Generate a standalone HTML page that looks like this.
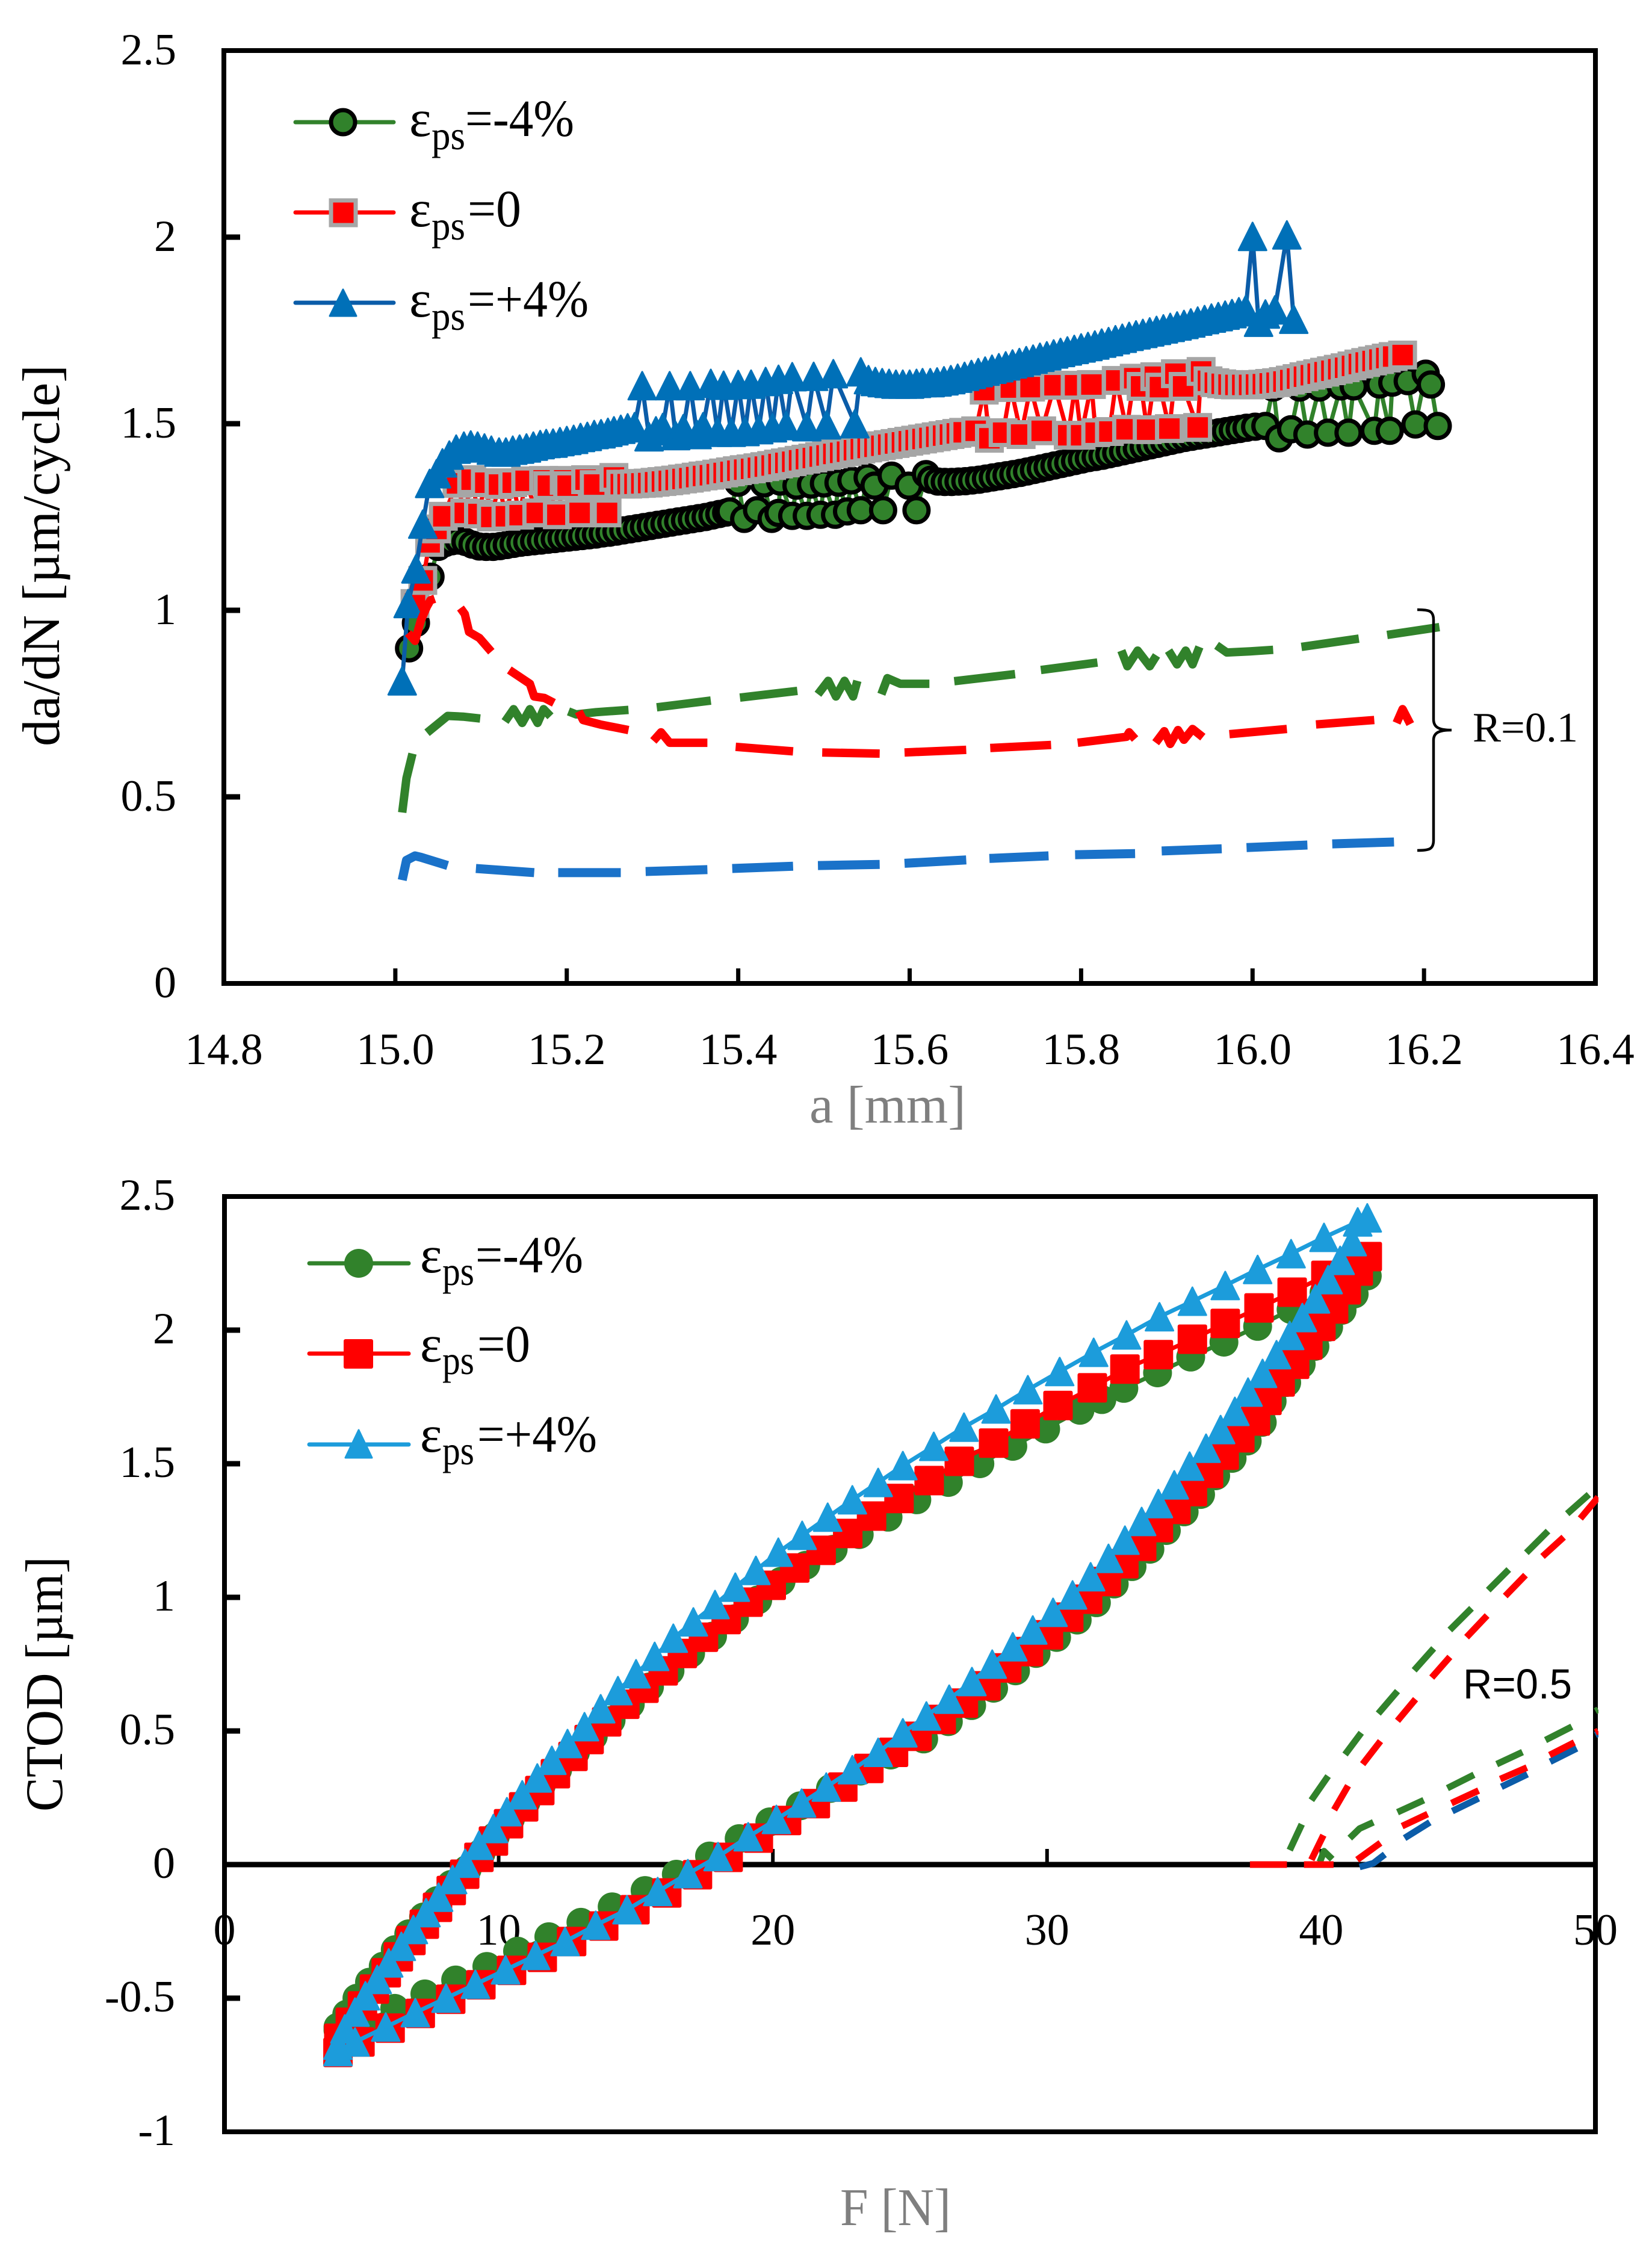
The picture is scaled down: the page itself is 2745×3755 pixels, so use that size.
<!DOCTYPE html>
<html lang="en">
<head>
<meta charset="utf-8">
<title>da/dN and CTOD charts</title>
<style>
html,body{margin:0;padding:0;background:#fff;}
svg{display:block;}
text{font-family:"Liberation Serif",serif;fill:#000;}
</style>
</head>
<body>
<svg id="fig" xmlns="http://www.w3.org/2000/svg" width="2745" height="3755" viewBox="0 0 2745 3755">
<rect x="0" y="0" width="2745" height="3755" fill="#fff"/>
<defs><clipPath id="clipBottom"><rect x="373" y="1988" width="2283" height="1554"/></clipPath></defs>

<g id="topAxes"></g>
<g id="topPlot"></g>
<rect x="372" y="84" width="2279" height="1550" fill="none" stroke="#000" stroke-width="8"/>

<text x="1345" y="1865" font-size="88" textLength="260" lengthAdjust="spacingAndGlyphs" style="fill:#7f7f7f">a [mm]</text>
<text transform="translate(98,1240) rotate(-90)" x="0" y="0" font-size="88" textLength="634" lengthAdjust="spacingAndGlyphs">da/dN [µm/cycle]</text>

<g>
  <g>
    <line x1="491" x2="654" y1="203" y2="203" stroke="#31822B" stroke-width="7" stroke-linecap="round"/>
    <circle cx="570" cy="203" r="20" fill="#31822B" stroke="#000" stroke-width="7"/>
    <text x="680" y="226" font-size="87">ε</text>
    <text x="717" y="248" font-size="68" textLength="56" lengthAdjust="spacingAndGlyphs">ps</text>
    <text x="773" y="226" font-size="87" textLength="181" lengthAdjust="spacingAndGlyphs">=-4%</text>
  </g>
  <g>
    <line x1="491" x2="654" y1="353" y2="353" stroke="#f00" stroke-width="7" stroke-linecap="round"/>
    <rect x="550" y="333" width="41" height="41" fill="#f00" stroke="#a6a6a6" stroke-width="7"/>
    <text x="680" y="376" font-size="87">ε</text>
    <text x="717" y="398" font-size="68" textLength="56" lengthAdjust="spacingAndGlyphs">ps</text>
    <text x="777" y="376" font-size="87" textLength="89" lengthAdjust="spacingAndGlyphs">=0</text>
  </g>
  <g>
    <line x1="491" x2="654" y1="503" y2="503" stroke="#0B5CA8" stroke-width="7" stroke-linecap="round"/>
    <polygon points="570,481 548,525 592,525" fill="#0070B8" stroke="#0070B8" stroke-width="3" stroke-linejoin="round"/>
    <text x="680" y="526" font-size="87">ε</text>
    <text x="717" y="548" font-size="68" textLength="56" lengthAdjust="spacingAndGlyphs">ps</text>
    <text x="777" y="526" font-size="87" textLength="201" lengthAdjust="spacingAndGlyphs">=+4%</text>
  </g>
</g>
<path d="M2355,1013 C2375,1013 2382,1015 2382,1030 L2382,1195 C2382,1208 2390,1213 2412,1213 C2390,1213 2382,1218 2382,1230 L2382,1396 C2382,1411 2375,1413 2355,1413" fill="none" stroke="#000" stroke-width="4.5"/>
<text x="2447" y="1232" font-size="70" textLength="175" lengthAdjust="spacingAndGlyphs">R=0.1</text>

<g id="botAxes"></g>
<rect x="373" y="1988" width="2278" height="1554" fill="none" stroke="#000" stroke-width="8"/>
<g id="botPlot"></g>

<text x="1396" y="3697" font-size="88" textLength="184" lengthAdjust="spacingAndGlyphs" style="fill:#7f7f7f">F [N]</text>
<text transform="translate(103,3010) rotate(-90)" x="0" y="0" font-size="88" textLength="424" lengthAdjust="spacingAndGlyphs">CTOD [µm]</text>

<g>
  <g>
    <line x1="514" x2="679" y1="2099" y2="2099" stroke="#31822B" stroke-width="7" stroke-linecap="round"/>
    <circle cx="596" cy="2099" r="24" fill="#31822B"/>
    <text x="698" y="2114" font-size="87">ε</text>
    <text x="735" y="2135" font-size="68" textLength="53" lengthAdjust="spacingAndGlyphs">ps</text>
    <text x="790" y="2114" font-size="87" textLength="179" lengthAdjust="spacingAndGlyphs">=-4%</text>
  </g>
  <g>
    <line x1="514" x2="679" y1="2249" y2="2249" stroke="#f00" stroke-width="7" stroke-linecap="round"/>
    <rect x="571" y="2225" width="49" height="49" rx="3" fill="#f00"/>
    <text x="698" y="2262" font-size="87">ε</text>
    <text x="735" y="2283" font-size="68" textLength="53" lengthAdjust="spacingAndGlyphs">ps</text>
    <text x="793" y="2262" font-size="87" textLength="88" lengthAdjust="spacingAndGlyphs">=0</text>
  </g>
  <g>
    <line x1="514" x2="679" y1="2400" y2="2400" stroke="#1C9CDB" stroke-width="7" stroke-linecap="round"/>
    <polygon points="596,2376 574,2422 618,2422" fill="#1C9CDB" stroke="#1C9CDB" stroke-width="3" stroke-linejoin="round"/>
    <text x="698" y="2412" font-size="87">ε</text>
    <text x="735" y="2433" font-size="68" textLength="53" lengthAdjust="spacingAndGlyphs">ps</text>
    <text x="793" y="2412" font-size="87" textLength="199" lengthAdjust="spacingAndGlyphs">=+4%</text>
  </g>
</g>
<text x="2431" y="2822" font-size="70" textLength="181" lengthAdjust="spacingAndGlyphs" style="font-family:'Liberation Sans',sans-serif">R=0.5</text>
</svg>

<script>
/* ---------- axis labels ---------- */
const topXTicks=[14.8,15.0,15.2,15.4,15.6,15.8,16.0,16.2,16.4];
const topXLabels=["14.8","15.0","15.2","15.4","15.6","15.8","16.0","16.2","16.4"];
const topYTicks=[0,0.5,1,1.5,2,2.5];
const topYLabels=["0","0.5","1","1.5","2","2.5"];
const botXTicks=[0,10,20,30,40,50];
const botXLabels=["0","10","20","30","40","50"];
const botYTicks=[-1,-0.5,0,0.5,1,1.5,2,2.5];
const botYLabels=["-1","-0.5","0","0.5","1","1.5","2","2.5"];

/* ---------- top chart: R=0.5 marker series ---------- */
const topGreenA=[15.016,15.024,15.041,15.05,
15.058,15.066,15.074,15.082,15.09,15.098,15.106,15.114,15.122,15.13,
15.138,15.146,15.154,15.162,15.17,15.178,15.186,15.194,15.202,15.21,
15.218,15.226,15.234,15.242,15.25,15.258,15.266,15.274,15.282,15.29,
15.298,15.306,15.314,15.322,15.33,15.338,15.346,15.354,15.362,15.37,
15.378,15.386,
15.39,15.4,15.407,15.422,15.43,15.439,15.447,15.449,15.463,15.468,
15.48,15.485,15.496,15.5,15.513,15.517,15.527,15.532,15.543,15.551,
15.559,15.569,15.579,15.599,15.608,15.619,15.625,
15.633,15.641,15.649,15.657,15.665,15.673,15.681,15.689,15.697,15.705,
15.713,15.721,15.729,15.737,15.745,15.753,15.761,15.769,15.777,15.785,
15.793,15.801,15.809,15.817,15.825,15.833,15.841,15.849,15.857,15.865,
15.873,15.881,15.889,15.897,15.905,15.913,15.921,15.929,15.937,15.945,
15.953,15.961,15.969,15.977,15.985,15.993,16.003,
16.015,16.024,16.031,16.045,16.055,16.064,16.078,16.088,16.103,16.112,
16.118,16.142,16.148,16.16,16.163,16.181,16.19,16.202,16.208,16.216];
const topGreenRate=[0.898,0.966,1.09,1.17,
1.18,1.185,1.187,1.183,1.176,1.171,1.17,1.17,1.172,1.175,
1.178,1.181,1.183,1.185,1.187,1.189,1.191,1.193,1.195,1.197,
1.199,1.201,1.203,1.206,1.208,1.211,1.214,1.217,1.22,1.223,
1.226,1.229,1.232,1.235,1.238,1.241,1.244,1.247,1.25,1.254,
1.258,1.262,
1.265,1.342,1.245,1.268,1.34,1.245,1.261,1.345,1.253,1.334,
1.253,1.337,1.256,1.34,1.256,1.342,1.265,1.348,1.268,1.356,
1.334,1.268,1.361,1.334,1.268,1.365,1.35,
1.345,1.344,1.344,1.345,1.346,1.348,1.35,1.353,1.356,1.359,
1.362,1.365,1.368,1.372,1.376,1.38,1.384,1.388,1.392,1.396,
1.4,1.404,1.408,1.411,1.414,1.418,1.422,1.426,1.43,1.434,
1.438,1.442,1.446,1.45,1.454,1.458,1.462,1.465,1.468,1.471,
1.474,1.477,1.48,1.483,1.486,1.489,1.492,
1.494,1.597,1.461,1.485,1.597,1.471,1.597,1.476,1.6,1.476,
1.6,1.481,1.605,1.481,1.61,1.614,1.498,1.634,1.605,1.494];

const topRedA=[15.023,15.032,15.04,15.048,15.056,
15.072,15.081,15.089,15.097,15.105,15.112,15.121,15.129,15.137,15.145,
15.152,15.165,15.173,15.178,15.189,15.197,15.201,15.215,15.222,15.232,
15.247,15.255,
15.263,15.271,15.279,15.287,15.295,15.303,15.311,15.319,15.327,15.335,
15.343,15.351,15.359,15.367,15.375,15.383,15.391,15.399,15.407,15.415,
15.423,15.431,15.439,15.447,15.455,15.463,15.471,15.479,15.487,15.495,
15.503,15.511,15.519,15.527,15.535,15.543,15.551,15.559,15.567,15.575,
15.583,15.591,15.599,15.607,15.615,15.623,15.631,15.639,15.647,15.655,
15.663,
15.677,15.687,15.693,15.709,15.718,15.73,15.741,15.754,15.769,15.785,
15.793,15.8,15.812,15.817,15.833,15.841,15.853,15.862,15.87,15.877,
15.886,15.892,15.903,15.91,15.919,15.936,15.94,
15.948,15.956,15.964,15.972,15.98,15.988,15.996,16.004,16.012,16.02,
16.028,16.036,16.044,16.052,16.06,16.068,16.076,16.084,16.092,16.1,
16.108,16.116,16.124,16.132,16.14,16.148,16.156,16.164,16.175];
const topRedRate=[1.018,1.08,1.182,1.218,1.252,
1.34,1.261,1.35,1.258,1.342,1.25,1.337,1.252,1.342,1.255,
1.347,1.261,1.348,1.334,1.256,1.348,1.334,1.261,1.35,1.337,
1.261,1.356,
1.338,1.338,1.339,1.34,1.341,1.343,1.345,1.347,1.349,1.352,
1.354,1.357,1.36,1.362,1.365,1.368,1.371,1.374,1.377,1.379,
1.382,1.385,1.388,1.392,1.395,1.398,1.402,1.405,1.408,1.412,
1.415,1.419,1.422,1.425,1.429,1.432,1.435,1.438,1.441,1.444,
1.447,1.45,1.453,1.456,1.459,1.462,1.465,1.468,1.471,1.474,
1.477,
1.481,1.59,1.461,1.476,1.597,1.471,1.598,1.481,1.603,1.469,
1.603,1.469,1.605,1.476,1.479,1.616,1.485,1.622,1.6,1.484,
1.626,1.598,1.487,1.634,1.6,1.49,1.64,
1.615,1.61,1.607,1.605,1.604,1.604,1.604,1.605,1.606,1.608,
1.61,1.613,1.617,1.621,1.626,1.63,1.634,1.638,1.642,1.646,
1.65,1.655,1.66,1.664,1.668,1.672,1.676,1.68,1.684];

const topBlueA=[15.008,15.015,15.024,15.032,15.04,15.048,15.055,15.063,15.071,15.08,
15.088,15.096,15.104,15.112,15.121,15.129,15.137,15.145,15.153,15.161,
15.169,15.176,15.184,15.192,15.2,15.208,15.216,15.224,15.232,15.24,
15.248,15.255,15.263,15.271,15.279,
15.288,15.296,15.304,15.312,15.32,15.327,15.336,15.344,15.352,15.359,
15.368,15.376,15.383,15.392,15.4,15.408,15.415,15.424,15.432,15.44,
15.447,15.456,15.463,15.48,15.488,15.503,15.511,15.536,15.543,
15.552,15.56,15.568,15.576,15.584,15.592,15.6,15.608,15.615,15.624,
15.632,15.64,15.648,15.656,15.664,15.672,15.68,15.688,15.696,15.704,
15.712,15.72,15.728,15.736,15.744,15.752,15.76,15.768,15.776,15.784,
15.792,15.8,15.808,15.816,15.824,15.832,15.84,15.848,15.856,15.864,
15.872,15.88,15.888,15.896,15.904,15.912,15.92,15.928,15.936,15.944,
15.952,15.96,15.968,15.976,15.984,15.992,
16,16.007,16.015,16.026,16.04,16.048];
const topBlueRate=[0.811,1.018,1.111,1.231,1.34,1.366,1.395,1.416,1.432,1.44,
1.443,1.44,1.435,1.429,1.424,1.424,1.429,1.432,1.435,1.44,
1.444,1.447,1.448,1.452,1.455,1.458,1.463,1.466,1.471,1.473,
1.477,1.481,1.485,1.489,1.492,
1.602,1.465,1.481,1.49,1.602,1.468,1.487,1.602,1.471,1.492,
1.608,1.477,1.603,1.477,1.605,1.479,1.606,1.484,1.613,1.489,
1.619,1.495,1.626,1.492,1.627,1.497,1.634,1.5,1.639,
1.618,1.613,1.61,1.608,1.606,1.606,1.606,1.608,1.61,1.61,
1.612,1.615,1.618,1.622,1.627,1.632,1.637,1.641,1.646,1.65,
1.655,1.66,1.664,1.669,1.673,1.678,1.682,1.687,1.691,1.695,
1.699,1.703,1.707,1.711,1.716,1.72,1.725,1.729,1.734,1.738,
1.742,1.746,1.75,1.754,1.758,1.762,1.766,1.77,1.775,1.779,
1.783,1.787,1.791,1.795,1.8,1.806,
2.002,1.772,1.794,1.805,2.006,1.78];

/* ---------- top chart: R=0.1 dashed series (null = gap between dashes) ---------- */
const r01GreenA=[15.008,15.013,15.02,null,
15.037,15.061,15.079,15.099,null,
15.128,15.138,15.148,15.157,15.166,15.173,15.181,null,
15.202,15.211,15.234,15.272,null,
15.305,15.368,null,
15.402,15.469,null,
15.493,15.505,15.514,15.524,15.534,15.539,null,
15.567,15.574,15.589,15.623,null,
15.652,15.723,null,
15.753,15.819,null,
15.847,15.854,15.866,15.88,15.888,null,
15.902,15.912,15.922,15.93,15.938,null,
15.958,15.97,15.997,16.024,null,
16.057,16.124,null,
16.157,16.218];
const r01GreenRate=[0.458,0.55,0.616,null,
0.672,0.717,0.715,0.71,null,
0.702,0.735,0.698,0.735,0.698,0.735,0.716,null,
0.729,0.721,0.727,0.733,null,
0.74,0.758,null,
0.766,0.784,null,
0.775,0.811,0.769,0.811,0.769,0.811,null,
0.775,0.818,0.803,0.803,null,
0.81,0.829,null,
0.84,0.86,null,
0.892,0.85,0.892,0.85,0.879,null,
0.892,0.855,0.892,0.855,0.902,null,
0.906,0.887,0.89,0.894,null,
0.902,0.924,null,
0.934,0.955];

const r01RedA=[15.015,15.023,15.03,15.037,15.041,15.046,null,
15.076,15.081,15.086,15.098,15.112,null,
15.133,15.157,15.162,15.174,15.185,null,
15.214,15.219,15.239,15.272,null,
15.301,15.31,15.32,15.364,null,
15.397,15.464,null,
15.498,15.565,null,
15.594,15.666,null,
15.694,15.765,null,
15.796,15.853,15.856,15.863,null,
15.887,15.897,15.904,15.913,15.92,15.93,15.942,null,
15.973,16.04,null,
16.074,16.142,null,
16.168,16.175,16.184];
const r01RedRate=[0.939,0.918,0.974,1.011,1.027,1.031,null,
1.006,0.99,0.942,0.926,0.889,null,
0.84,0.803,0.769,0.765,0.752,null,
0.729,0.706,0.694,0.679,null,
0.65,0.673,0.645,0.645,null,
0.634,0.622,null,
0.619,0.616,null,
0.619,0.626,null,
0.631,0.639,null,
0.645,0.661,0.673,0.655,null,
0.645,0.676,0.642,0.679,0.653,0.682,0.66,null,
0.668,0.682,null,
0.694,0.706,null,
0.698,0.735,0.695];

const r01BlueA=[15.008,15.013,15.023,15.03,15.061,null,
15.094,15.162,null,
15.19,15.263,null,
15.292,15.364,null,
15.393,15.464,null,
15.493,15.565,null,
15.594,15.666,null,
15.693,15.762,null,
15.793,15.863,null,
15.894,15.964,null,
15.993,16.064,null,
16.093,16.165];
const r01BlueRate=[0.277,0.33,0.342,0.338,0.316,null,
0.308,0.297,null,
0.297,0.297,null,
0.3,0.305,null,
0.308,0.314,null,
0.316,0.319,null,
0.322,0.331,null,
0.335,0.342,null,
0.345,0.348,null,
0.355,0.361,null,
0.364,0.371,null,
0.374,0.379];

/* ---------- bottom chart: marker series ---------- */
const botGreenF=[4.14,5.1,6.21,7.31,8.43,9.57,10.69,11.83,13,14.14,
15.34,16.48,17.69,18.77,19.89,21,22.1,23.2,24.3,25.5,
26.4,27.25,28.05,28.85,29.6,30.35,31.1,31.8,32.45,33.1,
33.75,34.35,35,35.6,36.15,36.75,37.3,37.85,38.21,38.74,39.27,
39.77,40.27,40.76,41.2,41.68,
40.1,38.9,37.68,36.45,35.24,34.03,32.8,32,31.2,29.95,
28.75,27.55,26.4,25.25,24.2,23.15,22.2,21.2,20.3,19.45,
18.6,17.8,17,16.25,15.5,14.8,14.1,13.45,12.8,12.15,
11.55,11,10.43,9.88,9.36,8.85,8.27,7.75,7.26,6.72,
6.23,5.79,5.29,4.83,4.46,4.14];
const botGreenCtod=[-0.62,-0.59,-0.538,-0.484,-0.432,-0.381,-0.324,-0.27,-0.216,-0.158,
-0.097,-0.036,0.032,0.097,0.16,0.22,0.285,0.35,0.41,0.47,
0.535,0.595,0.66,0.725,0.79,0.85,0.915,0.98,1.05,1.115,
1.18,1.25,1.32,1.385,1.455,1.52,1.585,1.655,1.734,1.804,1.872,
1.939,2.011,2.074,2.135,2.203,
2.14,2.077,2.014,1.955,1.899,1.84,1.782,1.74,1.7,1.63,
1.565,1.5,1.43,1.365,1.3,1.235,1.18,1.12,1.06,0.99,
0.92,0.855,0.79,0.725,0.665,0.6,0.54,0.48,0.42,0.355,
0.295,0.235,0.171,0.106,0.043,-0.018,-0.074,-0.135,-0.196,-0.259,
-0.318,-0.38,-0.44,-0.5,-0.56,-0.608];

const botRedF=[4.14,4.94,6.04,7.14,8.25,9.35,10.47,11.59,12.66,13.83,
14.97,16.13,17.25,18.37,19.47,20.5,21.55,22.55,23.5,24.4,
25.26,26.14,26.95,27.77,28.53,29.32,30.05,30.79,31.48,32.16,
32.8,33.45,34.06,34.7,35.3,35.89,36.46,37.03,37.6,38.02,
38.5,39.03,39.51,39.99,40.45,40.91,41.35,41.68,
40.17,38.94,37.73,36.5,35.3,34.06,32.84,31.65,30.4,29.2,
28.05,26.8,25.7,24.6,23.6,22.73,21.76,20.8,19.94,19.1,
18.3,17.47,16.7,16,15.3,14.6,13.94,13.3,12.71,12.07,
11.5,10.91,10.36,9.81,9.28,8.76,8.27,7.77,7.29,6.8,
6.34,5.9,5.47,5.03,4.59,4.17];
const botRedCtod=[-0.703,-0.664,-0.612,-0.557,-0.504,-0.45,-0.396,-0.347,-0.288,-0.23,
-0.169,-0.106,-0.038,0.027,0.099,0.165,0.228,0.29,0.36,0.42,
0.48,0.543,0.604,0.669,0.736,0.797,0.86,0.926,0.993,1.059,
1.126,1.191,1.261,1.329,1.396,1.464,1.532,1.597,1.66,1.737,
1.806,1.872,1.944,2.014,2.079,2.151,2.221,2.275,
2.205,2.142,2.083,2.025,1.966,1.908,1.854,1.784,1.718,1.649,
1.577,1.509,1.437,1.37,1.304,1.239,1.176,1.11,1.045,0.982,
0.917,0.851,0.79,0.725,0.66,0.6,0.534,0.468,0.405,0.34,
0.277,0.216,0.153,0.088,0.027,-0.036,-0.097,-0.16,-0.223,-0.284,
-0.345,-0.405,-0.466,-0.529,-0.59,-0.65];

const botBlueF=[4.14,4.76,5.88,6.96,8.08,9.15,10.25,11.35,12.42,13.54,
14.68,15.8,16.9,18,19.1,20.13,21.05,21.95,22.9,23.84,
24.74,25.6,26.43,27.26,28,28.75,29.48,30.22,30.93,31.59,
32.24,32.84,33.45,34.06,34.64,35.2,35.8,36.33,36.85,37.33,
37.86,38.37,38.85,39.31,39.79,40.25,40.69,41.13,41.68,41.33,
40.1,38.9,37.68,36.5,35.3,34.1,32.9,31.7,30.46,29.3,
28.14,26.97,25.87,24.74,23.84,22.9,22,21.07,20.2,19.38,
18.63,17.89,17.1,16.37,15.69,15.01,14.35,13.72,13.13,12.51,
11.94,11.41,10.86,10.3,9.81,9.28,8.78,8.32,7.81,7.35,
6.89,6.45,5.99,5.57,5.14,4.76,4.39,4.14];
const botBlueCtod=[-0.7,-0.664,-0.608,-0.554,-0.5,-0.448,-0.394,-0.34,-0.288,-0.227,
-0.169,-0.101,-0.034,0.03,0.104,0.169,0.23,0.29,0.355,0.42,
0.493,0.556,0.619,0.685,0.75,0.815,0.878,0.944,1.009,1.077,
1.146,1.214,1.284,1.351,1.421,1.491,1.558,1.628,1.696,1.768,
1.838,1.908,1.98,2.047,2.117,2.189,2.261,2.331,2.42,2.405,
2.347,2.286,2.227,2.167,2.108,2.05,1.982,1.917,1.845,1.777,
1.705,1.637,1.565,1.493,1.43,1.365,1.3,1.232,1.169,1.101,
1.038,0.973,0.908,0.847,0.779,0.714,0.651,0.583,0.516,0.453,
0.39,0.324,0.261,0.198,0.135,0.072,0.005,-0.056,-0.122,-0.18,
-0.243,-0.306,-0.368,-0.43,-0.491,-0.552,-0.615,-0.676];

/* ---------- bottom chart: R=0.5 dashed series (null = gap between dashes) ---------- */
const r05GreenUpF=[38.85,39.29,null,39.64,40.25,null,40.87,41.46,null,42.08,42.78,null,43.39,44.1,null,44.69,45.48,null,46.09,46.84,null,47.48,48.27,null,48.97,49.76];
const r05GreenUpCtod=[0.054,0.151,null,0.241,0.331,null,0.412,0.493,null,0.565,0.649,null,0.727,0.809,null,0.878,0.959,null,1.027,1.104,null,1.167,1.248,null,1.313,1.385];
const r05RedUpF=[37.4,38.75,null,39.64,40.08,null,40.47,40.98,null,41.51,42.16,null,42.78,43.44,null,44.03,44.69,null,45.3,46.05,null,46.71,47.45,null,48.07,48.84,null,49.45,50.1];
const r05RedUpCtod=[0,0,null,0.018,0.11,null,0.205,0.295,null,0.376,0.462,null,0.538,0.619,null,0.7,0.777,null,0.851,0.932,null,1.005,1.083,null,1.153,1.225,null,1.295,1.375];
const r05RedLowF=[39.37,40.45,null,41.31,42.16,null,42.95,43.88,null,44.75,45.74,null,46.53,47.5,null,48.33,49.23,null,50,50.1];
const r05RedLowCtod=[0,0,null,0.018,0.081,null,0.144,0.189,null,0.23,0.277,null,0.32,0.363,null,0.41,0.457,null,0.495,0.5];
const r05GreenLowF=[39.95,40.1,40.4,null,41.04,41.4,41.9,null,42.78,43.74,null,44.6,45.57,null,46.4,47.34,null,48.18,49.14,null,50,50.1];
const r05GreenLowCtod=[0.01,0.05,0.02,null,0.099,0.135,0.158,null,0.196,0.241,null,0.286,0.336,null,0.376,0.421,null,0.466,0.516,null,0.574,0.58];
const r05BlueLowF=[41.4,41.9,42.32,null,43.04,43.96,null,44.78,45.74,null,46.57,47.52,null,48.35,49.32,null,50,50.1];
const r05BlueLowCtod=[-0.009,0.005,0.038,null,0.099,0.158,null,0.2,0.248,null,0.291,0.338,null,0.385,0.435,null,0.485,0.49];

/* ---------- axis functions ---------- */
function xTop(a){return 372+(a-14.8)*1424.4;}
function yTop(v){return 1634-v*620;}
function xBot(f){return 373+f*45.56;}
function yBot(c){return 3098-c*444;}

const NS='http://www.w3.org/2000/svg';
function make(tag,parent,attrs){
  const el=document.createElementNS(NS,tag);
  for(const k in attrs){el.setAttribute(k,attrs[k]);}
  parent.appendChild(el);
  return el;
}
function linePath(xs,ys,xFn,yFn){
  let d='';let pen=false;
  for(let i=0;i<xs.length;i++){
    if(xs[i]===null||ys[i]===null){pen=false;continue;}
    d+=(pen?'L':'M')+xFn(xs[i]).toFixed(1)+','+yFn(ys[i]).toFixed(1);
    pen=true;
  }
  return d;
}
function drawLine(parent,name,xs,ys,xFn,yFn,color,width,cap){
  const el=make('path',parent,{d:linePath(xs,ys,xFn,yFn),fill:'none',stroke:color,'stroke-width':width,'stroke-linecap':cap||'round','stroke-linejoin':'round'});
  
  
  return el;
}
function drawCircles(parent,name,xs,ys,xFn,yFn,r,fill,stroke,sw){
  const g=make('g',parent,{});
  
  
  for(let i=0;i<xs.length;i++){
    const el=make('circle',g,{cx:xFn(xs[i]).toFixed(1),cy:yFn(ys[i]).toFixed(1),r:r,fill:fill});
    if(stroke){el.setAttribute('stroke',stroke);el.setAttribute('stroke-width',sw);}
    
    
  }
}
function drawSquares(parent,name,xs,ys,xFn,yFn,size,fill,stroke,sw,rx){
  const g=make('g',parent,{});
  
  
  for(let i=0;i<xs.length;i++){
    const el=make('rect',g,{x:(xFn(xs[i])-size/2).toFixed(1),y:(yFn(ys[i])-size/2).toFixed(1),width:size,height:size,rx:rx,fill:fill});
    if(stroke){el.setAttribute('stroke',stroke);el.setAttribute('stroke-width',sw);}
    
    
  }
}
function drawTriangles(parent,name,xs,ys,xFn,yFn,half,fill){
  const g=make('g',parent,{});
  
  
  for(let i=0;i<xs.length;i++){
    const cx=xFn(xs[i]),cy=yFn(ys[i]);
    const pts=cx.toFixed(1)+','+(cy-half).toFixed(1)+' '+(cx-half).toFixed(1)+','+(cy+half).toFixed(1)+' '+(cx+half).toFixed(1)+','+(cy+half).toFixed(1);
    const el=make('polygon',g,{points:pts,fill:fill,stroke:fill,'stroke-width':3,'stroke-linejoin':'round'});
    
    
  }
}
function tickLabel(parent,x,y,anchor,str){
  const el=make('text',parent,{x:x,y:y,'text-anchor':anchor,'font-size':74});
  el.textContent=str;
  
  
}
function tickMark(parent,x1,y1,x2,y2,w){
  const el=make('line',parent,{x1:x1,y1:y1,x2:x2,y2:y2,stroke:'#000','stroke-width':w});
  
  
}

/* ---------- top axes ---------- */
const topAxes=document.getElementById('topAxes');
topXTicks.forEach(function(t,i){
  const x=xTop(t);
  if(i>0&&i<topXTicks.length-1){tickMark(topAxes,x,1634,x,1609,7);}
  tickLabel(topAxes,x,1768,'middle',topXLabels[i]);
});
topYTicks.forEach(function(t,i){
  const y=yTop(t);
  if(i>0&&i<topYTicks.length-1){tickMark(topAxes,372,y,399,y,9);}
  tickLabel(topAxes,293,y+23,'end',topYLabels[i]);
});

/* ---------- bottom axes ---------- */
const botAxes=document.getElementById('botAxes');
botXTicks.forEach(function(t,i){
  const x=xBot(t);
  if(i>0&&i<botXTicks.length-1){tickMark(botAxes,x,3098,x,3072,6);}
  tickLabel(botAxes,x,3231,'middle',botXLabels[i]);
});
botYTicks.forEach(function(t,i){
  const y=yBot(t);
  if(t!==0&&i>0&&i<botYTicks.length-1){tickMark(botAxes,373,y,399,y,9);}
  tickLabel(botAxes,291,y+22,'end',botYLabels[i]);
});
tickMark(botAxes,373,3098,2651,3098,9);

/* ---------- top series ---------- */
const topPlot=document.getElementById('topPlot');
drawLine(topPlot,'green-series-line',topGreenA,topGreenRate,xTop,yTop,'#31822B',7);
drawCircles(topPlot,'green-series-markers',topGreenA,topGreenRate,xTop,yTop,20,'#31822B','#000',7);
drawLine(topPlot,'red-series-line',topRedA,topRedRate,xTop,yTop,'#f00',7);
drawSquares(topPlot,'red-series-markers',topRedA,topRedRate,xTop,yTop,41,'#f00','#a6a6a6',7,0);
drawLine(topPlot,'blue-series-line',topBlueA,topBlueRate,xTop,yTop,'#0B5CA8',7);
drawTriangles(topPlot,'blue-series-markers',topBlueA,topBlueRate,xTop,yTop,23,'#0070B8');
drawLine(topPlot,'green-r01-dashed-line',r01GreenA,r01GreenRate,xTop,yTop,'#31822B',14,'butt');
drawLine(topPlot,'red-r01-dashed-line',r01RedA,r01RedRate,xTop,yTop,'#f00',14,'butt');
drawLine(topPlot,'blue-r01-dashed-line',r01BlueA,r01BlueRate,xTop,yTop,'#1A72C9',15,'butt');

/* ---------- bottom series ---------- */
const botPlot=document.getElementById('botPlot');
drawLine(botPlot,'green-loop-line',botGreenF,botGreenCtod,xBot,yBot,'#31822B',7);
drawCircles(botPlot,'green-loop-markers',botGreenF,botGreenCtod,xBot,yBot,24,'#31822B',null,0);
drawLine(botPlot,'red-loop-line',botRedF,botRedCtod,xBot,yBot,'#f00',7);
drawSquares(botPlot,'red-loop-markers',botRedF,botRedCtod,xBot,yBot,49,'#f00',null,0,3);
drawLine(botPlot,'blue-loop-line',botBlueF,botBlueCtod,xBot,yBot,'#1C9CDB',7);
drawTriangles(botPlot,'blue-loop-markers',botBlueF,botBlueCtod,xBot,yBot,23,'#1C9CDB');
const r05Group=make('g',botPlot,{'clip-path':'url(#clipBottom)'});


drawLine(r05Group,'blue-r05-lower-line',r05BlueLowF,r05BlueLowCtod,xBot,yBot,'#0B5CA8',11,'butt');
drawLine(r05Group,'green-r05-lower-line',r05GreenLowF,r05GreenLowCtod,xBot,yBot,'#31822B',11,'butt');
drawLine(r05Group,'red-r05-lower-line',r05RedLowF,r05RedLowCtod,xBot,yBot,'#f00',11,'butt');
drawLine(r05Group,'green-r05-upper-line',r05GreenUpF,r05GreenUpCtod,xBot,yBot,'#31822B',11,'butt');
drawLine(r05Group,'red-r05-upper-line',r05RedUpF,r05RedUpCtod,xBot,yBot,'#f00',11,'butt');
</script>
</body>
</html>
